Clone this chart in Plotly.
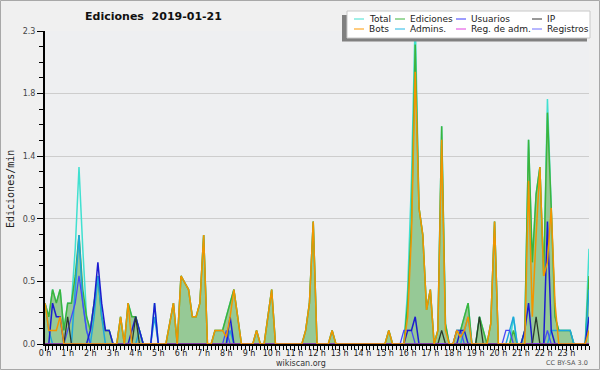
import plotly.graph_objects as go

# ---------------- data (edits per minute, 10-minute steps, 0 h .. 24 h) ----------------
minutes = list(range(0, 1441, 10))

total = [
    .3, .2, .4, .3, .4, .1,
    .3, .3, .7, 1.3, .7, .2,
    .1, .3, .5, .2, .1, .1,
    0, 0, .2, 0, .3, .2,
    .2, .1, 0, 0, 0, .3,
    0, 0, 0, .15, .3, 0,
    .5, .45, .4, .2, .2, .3,
    .8, 0, 0, .1, .1, .1,
    .2, .3, .4, .2, 0, 0,
    0, 0, .1, 0, 0, .2,
    .4, 0, 0, 0, 0, 0,
    0, 0, 0, .1, .3, .9,
    0, 0, 0, 0, .1, 0,
    0, 0, 0, 0, 0, 0,
    0, 0, 0, 0, 0, 0,
    0, .1, 0, 0, 0, 0,
    .4, 1.2, 2.4, 1.0, .8, .25,
    .4, 0, .1, 1.6, .15, 0,
    0, .1, .1, .2, .3, 0,
    0, .2, .1, 0, .15, .9,
    0, 0, 0, 0, .2, 0,
    0, .1, 1.5, .6, 1.1, 1.3,
    .5, 1.8, 1.0, .2, .1, .1,
    .1, .1, 0, 0, 0, 0,
    .7,
]

ediciones = [
    .3, .2, .4, .3, .4, .1,
    .3, .3, .5, .8, .4, .2,
    .1, .3, .5, .2, .1, .1,
    0, 0, .2, 0, .3, .2,
    .2, .1, 0, 0, 0, 0,
    0, 0, 0, .15, .3, 0,
    .5, .45, .4, .2, .2, .3,
    .8, 0, 0, .1, .1, .1,
    .2, .3, .4, .2, 0, 0,
    0, 0, .1, 0, 0, .2,
    .4, 0, 0, 0, 0, 0,
    0, 0, 0, .1, .3, .9,
    0, 0, 0, 0, .1, 0,
    0, 0, 0, 0, 0, 0,
    0, 0, 0, 0, 0, 0,
    0, .1, 0, 0, 0, 0,
    .3, .9, 2.2, 1.0, .8, .25,
    .4, 0, .1, 1.6, .15, 0,
    0, .1, .1, .2, .3, 0,
    0, .2, .1, 0, .15, .9,
    0, 0, 0, 0, .1, 0,
    0, .1, 1.5, .6, 1.1, 1.3,
    .5, 1.7, 1.0, .2, .1, .1,
    .1, .1, 0, 0, 0, 0,
    .5,
]

bots = [
    .3, .1, .1, .1, .2, 0,
    0, 0, 0, 0, 0, 0,
    0, 0, 0, 0, 0, 0,
    0, 0, .2, 0, .3, 0,
    0, 0, 0, 0, 0, 0,
    0, 0, 0, .15, .3, 0,
    .5, .45, .4, .2, .2, .3,
    .8, 0, 0, .1, .1, .1,
    .05, .2, .4, .2, 0, 0,
    0, 0, .1, 0, 0, .2,
    .4, 0, 0, 0, 0, 0,
    0, 0, 0, .1, .3, .9,
    0, 0, 0, 0, .1, 0,
    0, 0, 0, 0, 0, 0,
    0, 0, 0, 0, 0, 0,
    0, .1, 0, 0, 0, 0,
    .2, .8, 2.0, 1.0, .8, .25,
    .4, 0, .1, 1.5, .1, 0,
    0, .1, .05, .1, .2, 0,
    0, 0, 0, 0, .15, .9,
    0, 0, 0, 0, 0, 0,
    0, 0, 1.2, .2, .8, 1.3,
    .5, .6, 1.0, .3, 0, 0,
    0, 0, 0, 0, 0, 0,
    .1,
]

usuarios = [
    0, 0, .3, .2, .2, 0,
    0, 0, 0, 0, 0, 0,
    .1, .3, .6, .3, .1, .1,
    0, 0, 0, 0, 0, .1,
    .2, .1, 0, 0, 0, .3,
    0, 0, 0, 0, 0, 0,
    0, 0, 0, 0, 0, 0,
    0, 0, 0, 0, 0, 0,
    0, .2, 0, 0, 0, 0,
    0, 0, 0, 0, 0, 0,
    0, 0, 0, 0, 0, 0,
    0, 0, 0, 0, 0, 0,
    0, 0, 0, 0, 0, 0,
    0, 0, 0, 0, 0, 0,
    0, 0, 0, 0, 0, 0,
    0, 0, 0, 0, 0, 0,
    .1, .1, .2, 0, 0, 0,
    0, 0, 0, 0, 0, 0,
    0, 0, .1, .1, 0, 0,
    0, 0, 0, 0, 0, 0,
    0, 0, 0, 0, 0, 0,
    0, .1, .3, 0, 0, 0,
    0, .9, .1, 0, 0, 0,
    0, 0, 0, 0, 0, 0,
    .2,
]

registros = [
    0, 0, 0, 0, 0, 0,
    .1, .2, .3, .5, .3, .1,
    0, 0, 0, 0, 0, 0,
    0, 0, 0, 0, 0, 0,
    0, 0, 0, 0, 0, 0,
    0, 0, 0, 0, 0, 0,
    0, 0, 0, 0, 0, 0,
    0, 0, 0, 0, 0, 0,
    .1, 0, 0, 0, 0, 0,
    0, 0, 0, 0, 0, 0,
    0, 0, 0, 0, 0, 0,
    0, 0, 0, 0, 0, 0,
    0, 0, 0, 0, 0, 0,
    0, 0, 0, 0, 0, 0,
    0, 0, 0, 0, 0, 0,
    0, 0, 0, 0, 0, .1,
    .1, .1, 0, 0, 0, 0,
    0, 0, 0, 0, 0, 0,
    0, .1, .1, 0, 0, 0,
    0, 0, 0, 0, 0, 0,
    0, 0, .1, .1, 0, 0,
    0, 0, 0, 0, 0, 0,
    0, .1, 0, 0, 0, 0,
    0, 0, 0, 0, 0, 0,
    0,
]

ip = [
    0, 0, 0, 0, 0, 0,
    .2, 0, 0, 0, 0, 0,
    0, 0, 0, 0, 0, 0,
    0, 0, 0, 0, 0, 0,
    .2, 0, 0, 0, 0, 0,
    0, 0, 0, 0, 0, 0,
    0, 0, 0, 0, 0, 0,
    0, 0, 0, 0, 0, 0,
    0, 0, 0, 0, 0, 0,
    0, 0, 0, 0, 0, 0,
    0, 0, 0, 0, 0, 0,
    0, 0, 0, 0, 0, 0,
    0, 0, 0, 0, 0, 0,
    0, 0, 0, 0, 0, 0,
    0, 0, 0, 0, 0, 0,
    0, 0, 0, 0, 0, 0,
    0, 0, 0, 0, 0, 0,
    0, 0, 0, .1, 0, 0,
    0, 0, 0, 0, 0, 0,
    0, .2, 0, 0, 0, 0,
    0, 0, 0, 0, 0, 0,
    0, 0, 0, 0, .2, 0,
    0, 0, 0, 0, 0, 0,
    0, 0, 0, 0, 0, 0,
    0,
]

admins = [
    .3, .1, 0, 0, 0, 0,
    0, 0, .4, .8, .3, .1,
    0, .2, .5, .2, 0, 0,
    0, 0, 0, 0, 0, 0,
    0, .1, 0, 0, 0, .2,
    0, 0, 0, 0, 0, 0,
    0, 0, 0, 0, 0, 0,
    0, 0, 0, 0, 0, 0,
    0, .1, 0, 0, 0, 0,
    0, 0, 0, 0, 0, 0,
    0, 0, 0, 0, 0, 0,
    0, 0, 0, 0, 0, 0,
    0, 0, 0, 0, 0, 0,
    0, 0, 0, 0, 0, 0,
    0, 0, 0, 0, 0, 0,
    0, 0, 0, 0, 0, 0,
    0, 0, 0, 0, 0, 0,
    0, 0, 0, 0, 0, 0,
    0, 0, 0, .1, .2, 0,
    0, 0, 0, 0, 0, 0,
    0, 0, 0, .1, .2, 0,
    0, 0, 0, 0, 0, 0,
    0, 0, .1, .1, .1, .1,
    .1, .1, 0, 0, 0, 0,
    .4,
]

reg_adm = [0] * 145

hour_ticks = list(range(24))
hour_labels = [f"{h} h" for h in hour_ticks]
y_ticks = [0, 0.46, 0.92, 1.38, 1.84, 2.3]
y_labels = ["0.0", "0.5", "0.9", "1.4", "1.8", "2.3"]
y_minor = [0.115, 0.23, 0.345, 0.575, 0.69, 0.805, 1.035, 1.15, 1.265,
           1.495, 1.61, 1.725, 1.955, 2.07, 2.185]

legend_items = [
    ("Total", "#40e0d0"), ("Ediciones", "#3cb43c"), ("Usuarios", "#3b3bff"), ("IP", "#333333"),
    ("Bots", "#ff9900"), ("Admins.", "#22b8e6"), ("Reg. de adm.", "#e040e0"), ("Registros", "#6f6fff"),
]

# ---------------- figure ----------------
x = [m / 60 for m in minutes]
C = {n: c for n, c in legend_items}

fig = go.Figure()
fig.add_trace(go.Scatter(x=x, y=total, mode="lines", line=dict(color=C["Total"], width=1.5)))
fig.add_trace(go.Scatter(x=x, y=ediciones, mode="lines", fill="tozeroy", fillcolor="#96c996",
                         line=dict(color=C["Ediciones"], width=1.5)))
fig.add_trace(go.Scatter(x=x, y=admins, mode="lines", line=dict(color="#1fa6dc", width=1.5)))
fig.add_trace(go.Scatter(x=x, y=registros, mode="lines", line=dict(color="#4a4af5", width=1.3)))
fig.add_trace(go.Scatter(x=x, y=usuarios, mode="lines", line=dict(color="#1c1cd0", width=1.5)))
fig.add_trace(go.Scatter(x=x, y=ip, mode="lines", line=dict(color="#2c3a2c", width=1.3)))
fig.add_trace(go.Scatter(x=x, y=reg_adm, mode="lines", line=dict(color=C["Reg. de adm."], width=1)))
fig.add_trace(go.Scatter(x=x, y=bots, mode="lines", line=dict(color="#f29500", width=1.5)))

L, R, T, B = 45, 11, 31, 26
W, H = 600 - L - R, 370 - T - B


def px(v):
    return (v - L) / W


def py(v):
    return (370 - B - v) / H


shapes = [
    dict(type="rect", xref="paper", yref="paper", x0=px(0.5), x1=px(599.5), y0=py(369.5), y1=py(0.5),
         line=dict(color="#a8a8a8", width=1), fillcolor="rgba(0,0,0,0)", layer="below"),
    dict(type="rect", xref="paper", yref="paper", x0=px(342), x1=px(587), y0=py(41.5), y1=py(15),
         line=dict(width=0), fillcolor="#808080"),
    dict(type="rect", xref="paper", yref="paper", x0=px(347), x1=px(590), y0=py(38), y1=py(11),
         line=dict(color="#c8c8c8", width=1), fillcolor="#ffffff"),
]
annotations = []
col_x = [367, 408, 469, 545]
row_y = [19, 29]
for k, (name, color) in enumerate(legend_items):
    tx, ty = col_x[k % 4], row_y[k // 4]
    shapes.append(dict(type="line", xref="paper", yref="paper", x0=px(tx - 13), x1=px(tx - 3),
                       y0=py(ty), y1=py(ty), line=dict(color=color, width=1)))
    annotations.append(dict(text=name, xref="paper", yref="paper", x=px(tx), y=py(ty),
                            xanchor="left", yanchor="middle", showarrow=False,
                            font=dict(family="DejaVu Sans", size=9, color="#222222")))

annotations += [
    dict(text="Ediciones/min", xref="paper", yref="paper", x=px(10), y=py(189), textangle=-90,
         xanchor="center", yanchor="middle", showarrow=False,
         font=dict(family="DejaVu Sans Mono", size=10, color="#222222")),
    dict(text="wikiscan.org", xref="paper", yref="paper", x=px(301), y=py(363),
         xanchor="center", yanchor="middle", showarrow=False,
         font=dict(family="DejaVu Sans", size=8, color="#333333")),
    dict(text="CC BY-SA 3.0", xref="paper", yref="paper", x=px(590), y=py(363),
         xanchor="right", yanchor="middle", showarrow=False,
         font=dict(family="DejaVu Sans", size=6.5, color="#555555")),
]

fig.update_layout(
    width=600, height=370,
    margin=dict(l=L, r=R, t=T, b=B, pad=0, autoexpand=False),
    paper_bgcolor="#f0f0f0", plot_bgcolor="#eeeff1",
    showlegend=False,
    font=dict(family="DejaVu Sans"),
    title=dict(text="<b>Ediciones\u00a0\u00a02019-01-21</b>", xref="container", yref="container",
               x=153.5 / 600, y=1 - 16.5 / 370, xanchor="center", yanchor="middle",
               font=dict(family="DejaVu Sans", size=11, color="#111111")),
    shapes=shapes, annotations=annotations,
)
fig.update_xaxes(
    range=[0, 24], tickmode="array", tickvals=hour_ticks, ticktext=hour_labels,
    ticks="outside", ticklen=5, tickwidth=1, tickcolor="#000000", automargin=False,
    ticklabelstandoff=-5,
    showline=True, linecolor="#000000", linewidth=2, showgrid=False, zeroline=False,
    tickfont=dict(family="DejaVu Sans", size=8, color="#222222"),
    minor=dict(dtick=1 / 6, tick0=0, ticks="outside", ticklen=4, tickwidth=1, tickcolor="#000000",
               showgrid=False),
)
fig.update_yaxes(
    range=[0, 2.3], tickmode="array", tickvals=y_ticks, ticktext=y_labels, automargin=False,
    ticks="outside", ticklen=6, tickwidth=1, tickcolor="#000000",
    showline=True, linecolor="#000000", linewidth=2, showgrid=True, gridcolor="#cdcdcd", gridwidth=1,
    zeroline=False, tickfont=dict(family="DejaVu Sans", size=8, color="#444444"),
    minor=dict(tickmode="array", tickvals=y_minor, ticks="outside", ticklen=4, tickwidth=1,
               tickcolor="#000000", showgrid=False),
)

fig.write_html("out.html")
